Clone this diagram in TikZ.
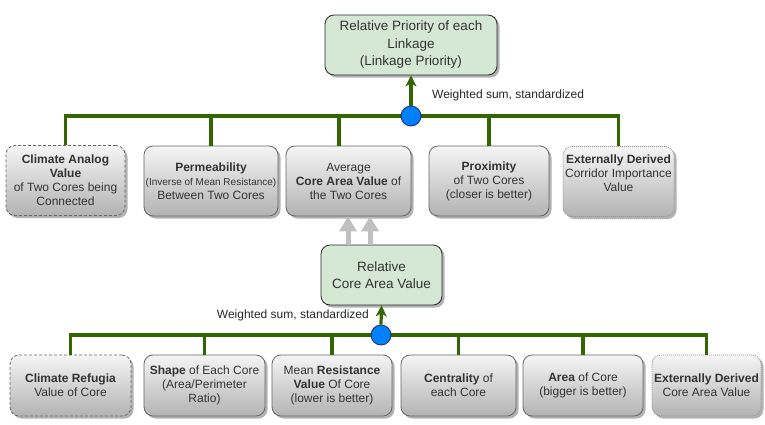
\documentclass[tikz,border=0pt]{standalone}
\usepackage{fontspec}
\setmainfont{Liberation Sans}
\usetikzlibrary{arrows.meta,shadows}
\definecolor{busgreen}{HTML}{336600}
\definecolor{hubblue}{HTML}{007FFF}
\definecolor{hubedge}{HTML}{1A2F6B}
\definecolor{boxedge}{HTML}{666666}
\definecolor{boxtext}{HTML}{333333}
\definecolor{boxtop}{HTML}{F5F5F5}
\definecolor{boxbot}{HTML}{B3B3B3}
\definecolor{greenfill}{HTML}{D5E8D4}
\definecolor{arrowgray}{HTML}{C0C0C0}
\begin{document}
\begin{tikzpicture}[x=1pt,y=-1pt,
  boxshadow/.style={drop shadow={shadow xshift=2.5pt, shadow yshift=-2.5pt, opacity=0.3, fill=black}},
  gbox/.style={boxshadow, draw=boxedge, line width=0.8pt, rounded corners=9pt,
    top color=boxtop, bottom color=boxbot, align=center, inner sep=0pt,
    text=boxtext, font=\fontsize{12}{14}\selectfont},
  dashedbox/.style={gbox, dash pattern=on 3pt off 2pt},
  dottedbox/.style={gbox, draw=boxedge!70, dash pattern=on 1pt off 1pt},
  resultbox/.style={boxshadow, draw=black!85, line width=0.8pt, rounded corners=9pt,
    fill=greenfill, align=center, inner sep=0pt, text=boxtext,
    font=\fontsize{13.5}{17.5}\selectfont},
  boxlabel/.style={align=center, inner sep=0pt, text=boxtext, font=\fontsize{12}{14}\selectfont},
  bus/.style={draw=busgreen, line width=3.2pt},
  busarrow/.style={bus, -{Stealth[length=11pt,width=11pt,inset=3pt]}},
  hub/.style={circle, draw=hubedge, line width=0.8pt, fill=hubblue, minimum size=20pt, inner sep=0pt},
  feed/.style={draw=arrowgray, line width=5pt, -{Triangle[length=15pt,width=17pt]}},
  note/.style={font=\fontsize{12}{14}\selectfont, text=black!85, inner sep=0pt}
]
\useasboundingbox (0,0) rectangle (765,424);

% result boxes
\node[resultbox, minimum width=172pt, minimum height=60pt] (top) at (411,45)
  {Relative Priority of each\\Linkage\\(Linkage Priority)};
\node[resultbox, minimum width=121pt, minimum height=60pt] (mid) at (381.5,275)
  {Relative\\Core Area Value};

% upper row
\node[dashedbox, minimum width=119pt, minimum height=70pt] (ca) at (65.5,180.5)
  {\textbf{Climate Analog}\\\textbf{Value}\\of Two Cores being\\Connected};
\node[gbox, minimum width=134pt, minimum height=70pt] (perm) at (211,181)
  {\textbf{Permeability}\\{\fontsize{10}{13}\selectfont(Inverse of Mean Resistance)}\\Between Two Cores};
\node[gbox, minimum width=125pt, minimum height=70pt] (avg) at (348.5,181)
  {Average\\\textbf{Core Area Value} of\\the Two Cores};
\node[gbox, minimum width=120pt, minimum height=70pt] (prox) at (489,181)
  {\textbf{Proximity}\\of Two Cores\\(closer is better)};
\node[dottedbox, minimum width=111pt, minimum height=70pt] (ext) at (618.5,181.5) {};
\node[boxlabel] (exttext) at (618.5,173)
  {\textbf{Externally Derived}\\Corridor Importance\\Value};

% lower row
\node[dashedbox, minimum width=121pt, minimum height=61pt] (cr) at (70.5,385.5)
  {\textbf{Climate Refugia}\\Value of Core};
\node[gbox, minimum width=121pt, minimum height=61pt] (shape) at (204.5,385.5)
  {\textbf{Shape} of Each Core\\(Area/Perimeter\\Ratio)};
\node[gbox, minimum width=120pt, minimum height=61pt] (mean) at (332,385.5)
  {Mean \textbf{Resistance}\\\textbf{Value} Of Core\\(lower is better)};
\node[gbox, minimum width=115pt, minimum height=61pt] (cent) at (458.5,385.5)
  {\textbf{Centrality} of\\each Core};
\node[gbox, minimum width=120pt, minimum height=61pt] (area) at (583,385.5)
  {\textbf{Area} of Core\\(bigger is better)};
\node[dottedbox, minimum width=109pt, minimum height=61pt] (ext2) at (706.5,385.5)
  {\textbf{Externally Derived}\\Core Area Value};

% hubs and buses
\coordinate (c1) at (411,116);
\coordinate (c2) at (381,335);
\coordinate (avgdrop) at (339,0);

\draw[bus] (ca.north) |- (c1);
\draw[bus] (perm.north) |- (c1);
\draw[bus] (avg.north -| avgdrop) |- (c1);
\draw[bus] (prox.north) |- (c1);
\draw[bus] (ext.north) |- (c1);

\draw[bus] (cr.north) |- (c2);
\draw[bus] (shape.north) |- (c2);
\draw[bus] (mean.north) |- (c2);
\draw[bus] (cent.north) |- (c2);
\draw[bus] (area.north) |- (c2);
\draw[bus] (ext2.north) |- (c2);

\node[hub] (h1) at (c1) {};
\node[hub] (h2) at (c2) {};
\draw[busarrow] (h1.north) -- (top.south);
\draw[busarrow] (h2.north) -- (mid.south);

\node[note, anchor=west] (lab1) at (432,95) {Weighted sum, standardized};
\node[note, anchor=east] (lab2) at (369,315) {Weighted sum, standardized};

% gray feed arrows
\coordinate (g1) at (348,0);
\coordinate (g2) at (370,0);
\draw[feed] (mid.north -| g1) -- (avg.south -| g1);
\draw[feed] (mid.north -| g2) -- (avg.south -| g2);
\end{tikzpicture}
\end{document}
